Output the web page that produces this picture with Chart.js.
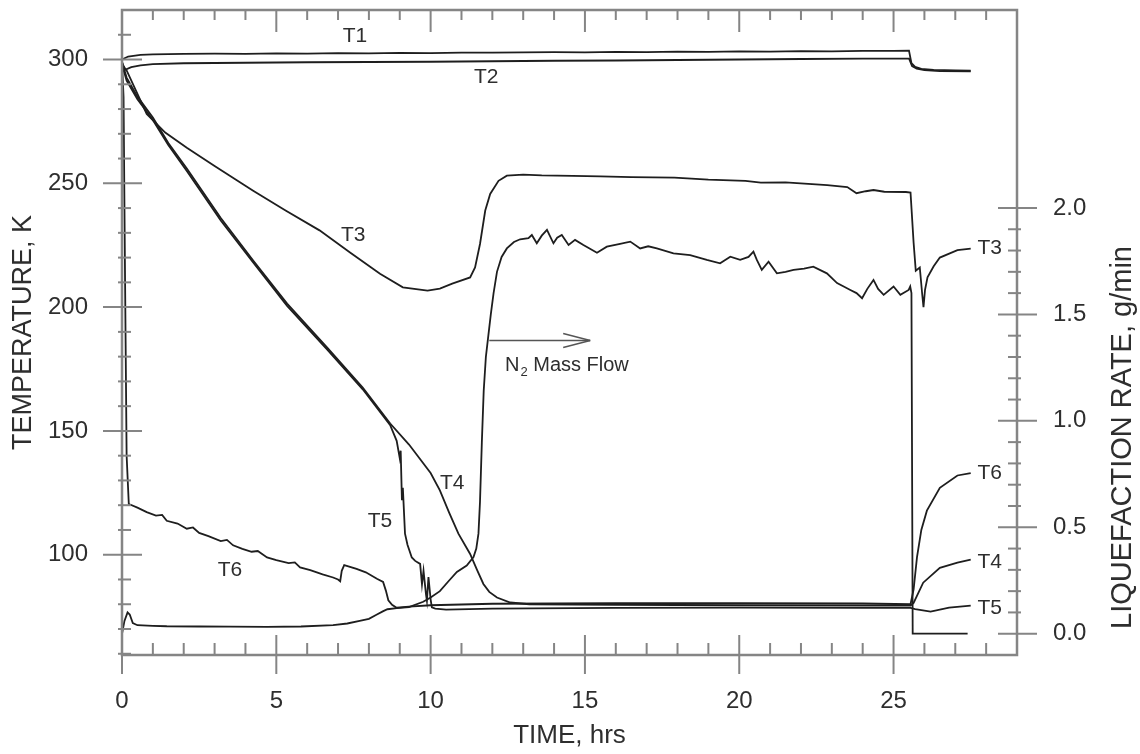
<!DOCTYPE html>
<html><head><meta charset="utf-8">
<script src="https://cdn.jsdelivr.net/npm/chart.js@4.4.1/dist/chart.umd.min.js"></script>
<style>html,body{margin:0;padding:0;background:#fff;}#wrap{width:1140px;height:754px;position:relative;}</style>
</head><body><div id="wrap"><canvas id="c"></canvas></div>
<script>
// ---------- DATA (time in hrs, temperature in K, liquefaction rate in g/min) ----------
const seriesT1 = [[0,300],[0.2,301.2],[0.6,301.9],[1.0,302.1],[2.0,302.3],[3.0,302.4],[4.0,302.3],[5.0,302.5],[6.0,302.4],[7.0,302.6],[8.0,302.5],[9.0,302.7],[10.0,302.6],[11.0,302.8],[12.0,302.8],[13.0,302.9],[14.0,303.0],[15.0,302.9],[16.0,303.1],[17.0,303.0],[18.0,303.2],[19.0,303.1],[20.0,303.3],[21.0,303.2],[22.0,303.4],[23.0,303.3],[24.0,303.5],[25.0,303.5],[25.5,303.6],[25.58,298.5],[25.7,297.0],[25.9,296.2],[26.3,295.8],[27.0,295.6],[27.5,295.5]];
const seriesT2 = [[0,299],[0.1,295.8],[0.3,296.9],[0.6,297.6],[1.0,298.1],[2.0,298.5],[4.0,298.7],[6.0,298.9],[8.0,299.0],[10.0,299.1],[12.0,299.3],[14.0,299.5],[16.0,299.6],[18.0,299.8],[20.0,300.0],[22.0,300.2],[24.0,300.4],[25.5,300.4],[25.6,297.3],[25.75,296.3],[26.0,295.7],[26.5,295.3],[27.5,295.2]];
const seriesT3 = [[0,298],[0.15,295.6],[0.8,278],[1.4,270.5],[2.1,264.4],[3.0,257],[4.25,247],[5.3,239],[6.4,231],[7.4,222],[8.36,213.5],[9.1,208],[9.9,206.7],[10.3,207.5],[10.7,209.5],[11.28,212],[11.44,216],[11.6,225.5],[11.77,239],[11.93,245.7],[12.2,251],[12.47,253.1],[13.0,253.5],[13.6,253.2],[14.6,253],[15.5,252.8],[16.5,252.5],[17.9,252.3],[19.0,251.5],[20.2,251],[20.7,250.3],[21.5,250.4],[22.85,249.3],[23.5,248.5],[23.8,246.0],[24.1,246.8],[24.35,247.3],[24.7,246.6],[25.4,246.5],[25.55,246.3],[25.65,226],[25.72,214.7],[25.85,216],[25.93,205],[25.97,200],[26.02,207],[26.1,212],[26.3,216.5],[26.5,220],[27.07,223],[27.5,223.6]];
const seriesT4 = [[0,299],[0.15,292.7],[0.5,285],[1.0,276.6],[1.5,266.3],[2.1,256],[3.2,236],[4.25,218.8],[5.35,201.4],[6.65,183.6],[7.8,167.5],[8.69,153],[9.3,144.5],[10.0,133],[10.3,126],[10.6,117],[10.9,108.5],[11.28,100.3],[11.5,94],[11.71,88.2],[11.9,85],[12.15,82.7],[12.58,80.7],[13.2,80],[16,79.8],[20,79.6],[24,79.5],[25.55,79.5],[25.65,80.5],[25.96,88.7],[26.5,94.7],[27.07,96.8],[27.5,98]];
const seriesT5 = [[0,298],[0.15,291.5],[0.5,284],[1.0,275.6],[1.5,265.5],[2.1,255],[3.2,235],[4.25,218],[5.35,200.5],[6.65,182.8],[7.8,166.8],[8.69,152.3],[8.9,146],[9.0,139],[9.03,142],[9.07,122],[9.1,127],[9.17,108.5],[9.25,104],[9.39,98.9],[9.5,97.5],[9.66,96.3],[9.72,88],[9.77,93.5],[9.85,84],[9.88,81.4],[9.93,91],[10.0,82],[10.04,78.7],[10.15,78.2],[10.5,77.8],[12,78.2],[16,78.5],[20,78.6],[24,78.5],[25.55,78.5],[25.7,78],[26.2,77],[26.8,78.6],[27.5,79.4]];
const seriesT6 = [[0,299],[0.05,285],[0.1,210],[0.15,140],[0.22,120.5],[0.5,119.0],[0.8,117.2],[1.1,115.8],[1.3,116.1],[1.45,113.7],[1.8,112.6],[2.1,110.5],[2.3,111.0],[2.5,108.8],[2.8,107.5],[3.2,105.5],[3.4,106.0],[3.6,103.8],[3.9,102.4],[4.2,101.2],[4.4,101.5],[4.7,98.9],[5.0,97.8],[5.4,96.6],[5.6,96.9],[5.77,94.9],[6.1,93.8],[6.5,92.1],[6.84,90.8],[7.0,90.0],[7.07,89.3],[7.12,93.5],[7.2,95.8],[7.6,94.3],[7.9,92.9],[8.26,90.3],[8.46,89.0],[8.55,85.5],[8.63,81.6],[8.75,79.8],[8.9,78.6],[9.3,79.0],[10.0,79.6],[12.0,80.2],[16.0,80.4],[20.0,80.4],[24.0,80.3],[25.55,80.0],[25.65,86.0],[25.76,99.0],[25.9,110.0],[26.08,117.8],[26.5,127.0],[27.07,132.0],[27.5,133.0]];
const seriesMassFlow = [[0,0.0],[0.08,0.06],[0.18,0.10],[0.25,0.09],[0.35,0.05],[0.5,0.04],[1.0,0.037],[1.45,0.035],[2.5,0.034],[3.5,0.033],[4.7,0.032],[5.8,0.034],[6.84,0.04],[7.3,0.048],[7.7,0.06],[8.0,0.07],[8.26,0.09],[8.45,0.105],[8.6,0.115],[8.9,0.12],[9.3,0.125],[9.76,0.15],[10.0,0.17],[10.3,0.2],[10.6,0.25],[10.85,0.29],[11.17,0.32],[11.39,0.36],[11.48,0.40],[11.55,0.47],[11.6,0.62],[11.66,0.90],[11.72,1.14],[11.79,1.30],[11.87,1.40],[11.95,1.50],[12.04,1.60],[12.15,1.70],[12.3,1.77],[12.47,1.81],[12.7,1.84],[12.9,1.853],[13.17,1.858],[13.28,1.873],[13.44,1.834],[13.6,1.87],[13.77,1.897],[13.98,1.834],[14.1,1.86],[14.25,1.873],[14.47,1.826],[14.68,1.85],[14.95,1.826],[15.15,1.81],[15.39,1.79],[15.71,1.818],[16.1,1.83],[16.47,1.842],[16.79,1.81],[17.05,1.82],[17.33,1.81],[17.87,1.787],[18.41,1.779],[18.95,1.756],[19.38,1.74],[19.71,1.771],[20.03,1.756],[20.3,1.77],[20.46,1.795],[20.57,1.756],[20.73,1.709],[20.95,1.748],[21.22,1.693],[21.5,1.70],[21.76,1.709],[22.1,1.715],[22.4,1.724],[22.84,1.693],[23.17,1.647],[23.4,1.63],[23.6,1.615],[23.8,1.60],[23.98,1.576],[24.15,1.62],[24.35,1.662],[24.5,1.62],[24.68,1.592],[25.0,1.631],[25.22,1.592],[25.49,1.615],[25.54,1.631],[25.58,1.6],[25.62,0.0],[27.4,0.0]];

// ---------- TICKS ----------
const xMajorTicks = [0,5,10,15,20,25];
const xMinorTicks = [1,2,3,4,6,7,8,9,11,12,13,14,16,17,18,19,21,22,23,24,26,27,28,29];
const yMajorTicks = [100,150,200,250,300];
const yMinorTicks = [60,70,80,90,110,120,130,140,160,170,180,190,210,220,230,240,260,270,280,290,310];
const y2MajorTicks = [0.0,0.5,1.0,1.5,2.0];
const y2MinorTicks = [0.1,0.2,0.3,0.4,0.6,0.7,0.8,0.9,1.1,1.2,1.3,1.4,1.6,1.7,1.8,1.9];

// ---------- ANNOTATION TEXT (placed in data units) ----------
const curveLabels = [
  {text:'T1', t:7.55, v:309.5},
  {text:'T2', t:11.8, v:292.7},
  {text:'T3', t:7.49, v:228.9},
  {text:'T4', t:10.7, v:129},
  {text:'T5', t:8.36, v:113.7},
  {text:'T6', t:3.5, v:93.9}
];
const endLabelTime = 27.72;
const endLabels = [
  {text:'T3', v:223.6},
  {text:'T6', v:133.1},
  {text:'T4', v:96.8},
  {text:'T5', v:78.6}
];
const flowNote = {t:12.41, v:176.4, arrowFrom:11.9, arrowTo:15.17, arrowV:186.5};

// ---------- STYLE ----------
const FONT = '"Liberation Sans", Arial, Helvetica, sans-serif';
const INK = '#1e1e1e';
const TEXT = '#2e2e2e';
const AXIS = '#858585';

const toXY = s => s.map(p => ({x:p[0], y:p[1]}));
const ds = (label, s, axis) => ({label, data: toXY(s), yAxisID: axis, borderColor: INK, borderWidth: 1.8,
  pointRadius: 0, tension: 0, fill: false});

const decor = {
  id: 'decor',
  afterDraw(chart) {
    const {ctx, chartArea: a, scales} = chart;
    const x = scales.x, y = scales.y, y2 = scales.y2;
    const seg = (x1, y1, x2, yb) => { ctx.beginPath(); ctx.moveTo(x1, y1); ctx.lineTo(x2, yb); ctx.stroke(); };
    ctx.save();
    ctx.strokeStyle = AXIS; ctx.lineWidth = 2.5;
    ctx.strokeRect(a.left, a.top, a.right - a.left, a.bottom - a.top);
    ctx.lineWidth = 2;
    xMajorTicks.forEach(v => { const p = x.getPixelForValue(v); seg(p, a.bottom - 20, p, a.bottom + 19); seg(p, a.top, p, a.top + 22); });
    xMinorTicks.forEach(v => { const p = x.getPixelForValue(v); seg(p, a.bottom - 12, p, a.bottom); seg(p, a.top, p, a.top + 10); });
    yMajorTicks.forEach(v => { const p = y.getPixelForValue(v); seg(a.left - 19, p, a.left + 20, p); });
    yMinorTicks.forEach(v => { const p = y.getPixelForValue(v); seg(a.left - 4, p, a.left + 9, p); });
    y2MajorTicks.forEach(v => { const p = y2.getPixelForValue(v); seg(a.right - 19, p, a.right + 20, p); });
    y2MinorTicks.forEach(v => { const p = y2.getPixelForValue(v); seg(a.right - 9, p, a.right + 4, p); });

    ctx.fillStyle = TEXT; ctx.textBaseline = 'middle';
    ctx.font = '21px ' + FONT; ctx.textAlign = 'center';
    curveLabels.forEach(l => ctx.fillText(l.text, x.getPixelForValue(l.t), y.getPixelForValue(l.v)));
    ctx.textAlign = 'left';
    endLabels.forEach(l => ctx.fillText(l.text, x.getPixelForValue(endLabelTime), y.getPixelForValue(l.v)));

    // arrow pointing to the right-hand axis
    const ay = y.getPixelForValue(flowNote.arrowV);
    const ax1 = x.getPixelForValue(flowNote.arrowFrom), ax2 = x.getPixelForValue(flowNote.arrowTo);
    ctx.strokeStyle = '#555'; ctx.lineWidth = 1.5;
    seg(ax1, ay, ax2, ay);
    seg(ax2 - 27, ay - 7, ax2, ay); seg(ax2 - 27, ay + 7, ax2, ay);

    // N2 Mass Flow
    let nx = x.getPixelForValue(flowNote.t); const ny = y.getPixelForValue(flowNote.v);
    ctx.font = '20px ' + FONT; ctx.fillText('N', nx, ny); nx += ctx.measureText('N').width + 1;
    ctx.font = '13px ' + FONT; ctx.fillText('2', nx, ny + 7); nx += ctx.measureText('2').width;
    ctx.font = '20px ' + FONT; ctx.fillText(' Mass Flow', nx, ny);

    // right axis title (reads bottom to top)
    ctx.save();
    ctx.translate(a.right + 106, (a.top + a.bottom) / 2 + 105);
    ctx.rotate(-Math.PI / 2);
    ctx.font = '29px ' + FONT; ctx.textAlign = 'center'; ctx.fillStyle = TEXT;
    ctx.fillText('LIQUEFACTION RATE, g/min', 0, 0);
    ctx.restore();
    ctx.restore();
  }
};

const zeroPad = s => { s.paddingTop = 0; s.paddingBottom = 0; s.paddingLeft = 0; s.paddingRight = 0; };
const noGrid = { display: false, drawTicks: false };

new Chart(document.getElementById('c'), {
  type: 'line',
  data: { datasets: [
    ds('T1', seriesT1, 'y'),
    ds('T2', seriesT2, 'y'),
    ds('T3', seriesT3, 'y'),
    ds('T4', seriesT4, 'y'),
    ds('T5', seriesT5, 'y'),
    ds('T6', seriesT6, 'y'),
    ds('N2 Mass Flow', seriesMassFlow, 'y2')
  ]},
  options: {
    responsive: true, maintainAspectRatio: false, animation: false,
    layout: { padding: { top: 10, left: 0, right: 0, bottom: 0 } },
    plugins: { legend: { display: false }, tooltip: { enabled: false } },
    scales: {
      x: {
        type: 'linear', position: 'bottom', min: 0, max: 29,
        grid: noGrid, border: { display: false },
        afterBuildTicks: s => { s.ticks = xMajorTicks.map(v => ({value: v})); },
        ticks: { padding: 32, color: TEXT, font: { family: FONT, size: 24 }, maxRotation: 0, autoSkip: false, callback: v => String(v) },
        title: { display: true, text: 'TIME, hrs', color: TEXT, font: { family: FONT, size: 26 }, padding: { top: 0, bottom: 3 } },
        afterFit: s => { s.height = 99; zeroPad(s); }
      },
      y: {
        type: 'linear', position: 'left', min: 59.5, max: 320,
        grid: noGrid, border: { display: false },
        afterBuildTicks: s => { s.ticks = yMajorTicks.map(v => ({value: v})); },
        ticks: { padding: 34, color: TEXT, font: { family: FONT, size: 24 }, autoSkip: false, callback: v => String(v) },
        title: { display: true, text: 'TEMPERATURE, K', color: TEXT, font: { family: FONT, size: 27 }, padding: { top: 7, bottom: 0 } },
        afterFit: s => { s.width = 122; zeroPad(s); }
      },
      y2: {
        type: 'linear', position: 'right', min: -0.1, max: 2.93,
        grid: noGrid, border: { display: false },
        afterBuildTicks: s => { s.ticks = y2MajorTicks.map(v => ({value: v})); },
        ticks: { padding: 36, color: TEXT, font: { family: FONT, size: 24 }, autoSkip: false, callback: v => Number(v).toFixed(1) },
        title: { display: false },
        afterFit: s => { s.width = 123; zeroPad(s); }
      }
    }
  },
  plugins: [decor]
});
</script></body></html>
